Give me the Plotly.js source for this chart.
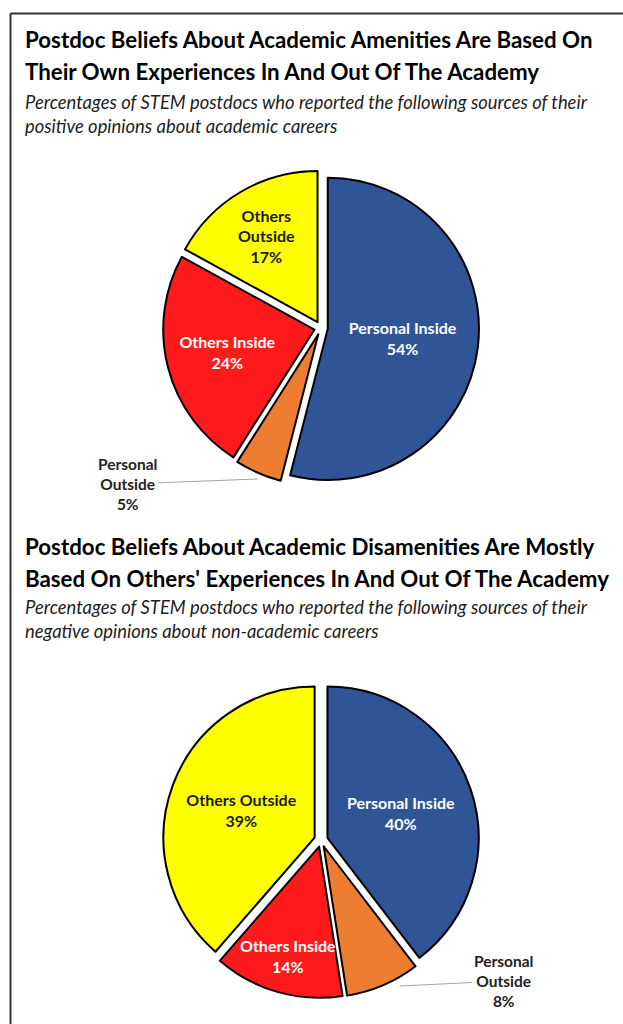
<!DOCTYPE html>
<html>
<head>
<meta charset="utf-8">
<script src="https://cdn.plot.ly/plotly-3.0.1.min.js"></script>
<style>html,body{margin:0;padding:0;background:#fff;}#chart{width:623px;height:1024px;}</style>
</head>
<body>
<div id="chart"></div>
<script>
// ---- data ----
const categories = ["Personal Inside", "Personal Outside", "Others Inside", "Others Outside"];
const positiveValues = [54, 5, 24, 17];   // sources of positive opinions about academic careers
const negativeValues = [40, 8, 14, 39];   // sources of negative opinions about non-academic careers
const sliceColors = ["#2F5597", "#ED7D31", "#FF1B1B", "#FFFF00"];
const labelColors = ["#FFFFFF", "#222222", "#FFFFFF", "#1A1A1A"];

const title1 = ["Postdoc Beliefs About Academic Amenities Are Based On",
                "Their Own Experiences In And Out Of The Academy"];
const subtitle1 = ["Percentages of STEM postdocs who reported the following sources of their",
                   "positive opinions about academic careers"];
const title2 = ["Postdoc Beliefs About Academic Disamenities Are Mostly",
                "Based On Others' Experiences In And Out Of The Academy"];
const subtitle2 = ["Percentages of STEM postdocs who reported the following sources of their",
                   "negative opinions about non-academic careers"];

// ---- helpers ----
const W = 623, H = 1024;
const px = x => x / W;
const py = y => 1 - y / H;
const FONT = "Lato, 'Open Sans', sans-serif";

// pie boxes (pixel): left, right, top, bottom
const box1 = {l: 163, r: 479, t: 168, b: 488};
const box2 = {l: 163, r: 479, t: 680, b: 1000};
const PULL = 0.045;

function sliceName(c, wrap) {
  return (wrap && c === "Others Outside") ? "Others<br>Outside" : c;
}

// slices whose label is drawn as a separate (unscaled) annotation
function pieTrace(values, box, wrap, overlayLabels) {
  return {
    type: "pie",
    labels: categories,
    values: values,
    text: categories.map((c, i) => sliceName(c, wrap) + "<br>" + values[i] + "%"),
    textinfo: "text",
    textposition: categories.map(c => (c === "Personal Outside" || overlayLabels.includes(c)) ? "none" : "inside"),
    insidetextorientation: "horizontal",
    sort: false,
    direction: "clockwise",
    rotation: 0,
    pull: PULL,
    marker: {colors: sliceColors, line: {color: "#000000", width: 2}},
    textfont: {family: FONT, size: 16, color: labelColors, weight: "bold"},
    hoverinfo: "label+value",
    showlegend: false,
    domain: {x: [px(box.l), px(box.r)], y: [py(box.b), py(box.t)]}
  };
}

const data = [
  pieTrace(positiveValues, box1, true, []),
  pieTrace(negativeValues, box2, false, ["Others Inside"])
];

const annotations = [];
function addLine(text, y, size, italic) {
  annotations.push({
    xref: "paper", yref: "paper", x: px(23), y: py(y),
    xanchor: "left", yanchor: "middle", showarrow: false,
    text: italic ? "<i>" + text + "</i>" : "<b>" + text + "</b>",
    font: {family: FONT, size: size, color: italic ? "#1E1E1E" : "#000000"}
  });
}
addLine(title1[0], 39, 22.3, false);
addLine(title1[1], 71, 22.3, false);
addLine(subtitle1[0], 102, 18.4, true);
addLine(subtitle1[1], 126, 18.4, true);
addLine(title2[0], 546, 22.3, false);
addLine(title2[1], 578, 22.3, false);
addLine(subtitle2[0], 607, 18.4, true);
addLine(subtitle2[1], 631, 18.4, true);

// label placed along a slice's mid-angle (computed from the values)
function sliceLabel(values, box, cat, frac) {
  const i = categories.indexOf(cat);
  const total = values.reduce((a, b) => a + b, 0);
  const before = values.slice(0, i).reduce((a, b) => a + b, 0);
  const mid = (before + values[i] / 2) / total * 2 * Math.PI;
  const cx = (box.l + box.r) / 2, cy = (box.t + box.b) / 2;
  const r = (box.r - box.l) / 2 / (1 + PULL);
  annotations.push({
    xref: "paper", yref: "paper",
    x: px(cx + frac * r * Math.sin(mid)), y: py(cy - frac * r * Math.cos(mid)),
    xanchor: "center", yanchor: "middle", showarrow: false,
    text: "<b>" + cat + "<br>" + values[i] + "%</b>",
    font: {family: FONT, size: 16, color: labelColors[i]}
  });
}
sliceLabel(negativeValues, box2, "Others Inside", 0.80);

// outside labels for "Personal Outside"
function outsideLabel(values, tx, ty, lx, ly) {
  const i = categories.indexOf("Personal Outside");
  annotations.push({
    xref: "paper", yref: "paper", x: px(tx), y: py(ty),
    ax: lx - tx, ay: ly - ty, axref: "pixel", ayref: "pixel",
    showarrow: true, arrowhead: 0, arrowwidth: 1, arrowcolor: "#A6A6A6",
    text: "<b>Personal<br>Outside<br>" + values[i] + "%</b>",
    font: {family: FONT, size: 15.5, color: "#222222"},
    align: "center"
  });
}
outsideLabel(positiveValues, 258, 479, 127, 484);
outsideLabel(negativeValues, 400, 986, 503, 981);

const layout = {
  width: W, height: H,
  margin: {l: 0, r: 0, t: 0, b: 0},
  paper_bgcolor: "#FFFFFF",
  showlegend: false,
  annotations: annotations,
  shapes: [
    {type: "line", xref: "paper", yref: "paper", x0: px(10.5), x1: 1, y0: py(13.5), y1: py(13.5), line: {color: "#333333", width: 2}},
    {type: "line", xref: "paper", yref: "paper", x0: px(10.5), x1: px(10.5), y0: py(13.5), y1: 0, line: {color: "#333333", width: 2}}
  ]
};

Plotly.newPlot("chart", data, layout, {displayModeBar: false, staticPlot: true});
</script>
</body>
</html>
